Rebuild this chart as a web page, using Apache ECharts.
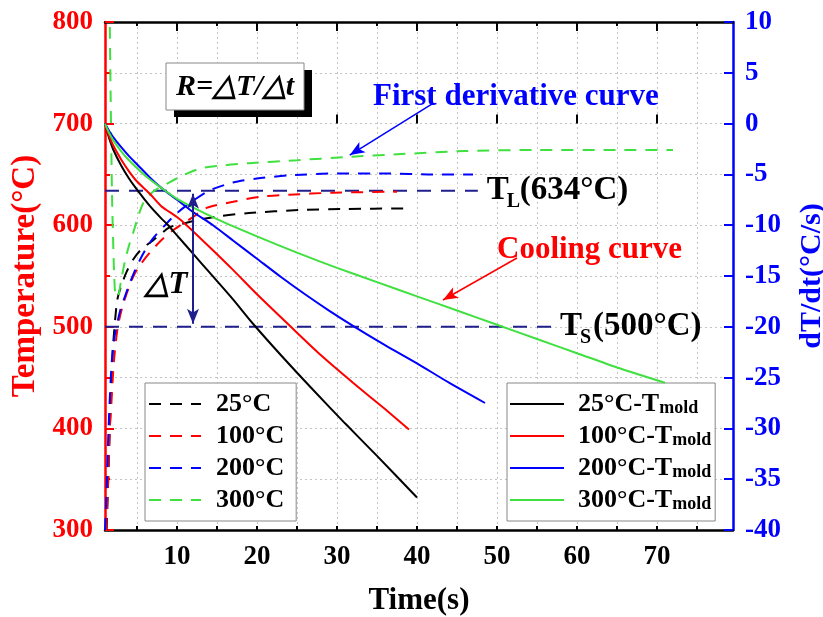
<!DOCTYPE html>
<html><head><meta charset="utf-8">
<script src="https://cdn.jsdelivr.net/npm/echarts@6/dist/echarts.min.js"></script>
<style>html,body{margin:0;padding:0;background:#fff}#c{width:823px;height:617px}</style>
</head><body><div id="c"></div>
<script>
const FONT = '"Liberation Serif","Times New Roman",serif';
const derivNames = ['25°C', '100°C', '200°C', '300°C'];
const coolNames = ['25°C-Tmold', '100°C-Tmold', '200°C-Tmold', '300°C-Tmold'];
const colors = ['#000000', '#ff0000', '#0000ff', '#3fe03f'];
const navy = '#1e1e8f';

// tick values
const xMajorTicks = [10, 20, 30, 40, 50, 60, 70];
const xMinorTicks = [5, 10, 15, 20, 25, 30, 35, 40, 45, 50, 55, 60, 65, 70, 75];

// cooling curves [time s, temperature °C]
const cool25 = [[1,700],[1.5,686],[2,675],[3,659],[4,646],[5,635],[6.6,619],[8,607],[8.9,600],[10,590],[12,572],[14,554],[17,527],[19.5,503],[23,472],[27,438],[31,405],[35,373],[40,332]];
const cool100 = [[1,700],[1.5,688],[2,679],[3,665],[4,653],[5,643],[6.6,631],[8,619],[10,608],[11.2,600],[14,579],[17,556],[20,532],[24.1,501],[28,472],[32,445],[36,419],[39,399]];
const cool200 = [[1,700],[1.5,693],[2,687],[3,677],[4,668],[5,660],[6.6,647],[8,637],[10,625],[12,613],[14.5,600],[17,585],[20,567],[23,549],[26,532],[29,516],[32.2,500],[36,482],[40,464],[44,445],[48.5,425]];
const cool300 = [[1,700],[1.5,691],[2,684],[3,673],[4,664],[6,649],[8,637],[10,626],[15,606],[20,589],[25,573],[30,558],[35,544],[40,530],[45,516],[50,502],[55,488],[60,474],[65,460],[71,445]];

// first derivative curves [time s, dT/dt °C/s]
const deriv25 = [[1.2,-40],[1.4,-35],[1.6,-30],[1.8,-26],[2.0,-22],[2.5,-17.5],[3,-16],[3.7,-14.6],[4.5,-13.4],[5.5,-12.4],[7,-11.5],[9.1,-10.2],[11,-9.8],[12.5,-9.5],[15.4,-9.1],[19,-8.8],[25.4,-8.5],[30.8,-8.4],[39,-8.35]];
const deriv100 = [[1.15,-40],[1.4,-35],[1.6,-30],[1.8,-27.5],[2.1,-23.5],[2.6,-20],[3.3,-17.7],[4.5,-15.1],[5.5,-13.8],[6.6,-12.7],[8,-11.5],[9.5,-10.5],[12,-9.2],[13.7,-8.3],[17,-7.7],[20.4,-7.2],[24,-7.0],[29.5,-6.8],[37.5,-6.7]];
const deriv200 = [[1.0,-40],[1.2,-36],[1.4,-31],[1.6,-27],[1.8,-24],[2.0,-22],[2.3,-20.5],[2.9,-18.4],[3.5,-17],[4.1,-15.7],[5,-14],[6,-12.5],[7,-11.3],[8.5,-10],[10,-8.8],[12,-7.6],[14,-6.6],[17,-5.8],[20,-5.4],[24,-5.1],[30,-4.9],[36,-4.9],[42,-5.0],[47,-5.0]];
const deriv300 = [[1.6,9.5],[1.7,3],[1.8,-3],[1.9,-8],[2.0,-11],[2.15,-15],[2.35,-17],[2.6,-17],[3.0,-15.5],[3.5,-13.5],[4.0,-12],[4.5,-10.8],[5.0,-9.5],[5.8,-7.8],[7,-6.7],[9,-5.8],[11,-5],[13,-4.4],[16,-4.1],[19,-3.9],[25,-3.6],[31,-3.3],[38,-3],[46,-2.7],[55,-2.6],[65,-2.6],[72,-2.6]];

// reference temperatures and annotation anchors [time, temperature]
const tlLine = [[1,634],[47.6,634]];
const tsLine = [[1,500],[57,500]];
const dTArrow = [[12,503],[12,631]];
const derivArrow = [[42,720],[31.6,669]];
const coolArrow = [[52.5,567.7],[43.25,526.4]];

const coolData = [cool25, cool100, cool200, cool300];
const derivData = [deriv25, deriv100, deriv200, deriv300];

const chart = echarts.init(document.getElementById('c'), null, {renderer: 'canvas'});

const gridLine = {show: true, lineStyle: {color: '#c4c4c4', width: 1, type: [2, 3]}};
const tickFont = {fontFamily: FONT, fontWeight: 'bold', fontSize: 27};

function xAx(pos, ticks, len, extra) {
  return Object.assign({
    type: 'value', position: pos, min: 1, max: 79.5,
    axisLine: {show: true, onZero: false, lineStyle: {color: '#000', width: 2.5}},
    axisTick: {show: true, inside: true, length: len, customValues: ticks, lineStyle: {color: '#000', width: 2}},
    axisLabel: {show: false},
    splitLine: {show: false}
  }, extra || {});
}

const series = [];
derivData.forEach((d, i) => {
  series.push({
    name: derivNames[i], type: 'line', data: d, xAxisIndex: 0, yAxisIndex: 1,
    symbol: 'none', smooth: 0.25, lineStyle: {color: colors[i], width: 2, type: [12, 9]},
    itemStyle: {color: colors[i]}, z: 3
  });
});
coolData.forEach((d, i) => {
  series.push({
    name: coolNames[i], type: 'line', data: d, xAxisIndex: 0, yAxisIndex: 0,
    symbol: 'none', smooth: 0.25, lineStyle: {color: colors[i], width: 2},
    itemStyle: {color: colors[i]}, z: 4
  });
});
series.push({
  name: 'TL', type: 'line', data: tlLine, xAxisIndex: 0, yAxisIndex: 0, symbol: 'none',
  lineStyle: {color: navy, width: 2, type: [14, 10]}, z: 2, silent: true
});
series.push({
  name: 'TS', type: 'line', data: tsLine, xAxisIndex: 0, yAxisIndex: 0, symbol: 'none',
  lineStyle: {color: navy, width: 2, type: [14, 10]}, z: 2, silent: true,
  markLine: {
    silent: true, animation: false, symbol: ['none', 'arrow'], symbolSize: [9, 15],
    label: {show: false},
    data: [
      [{coord: dTArrow[0], symbol: 'arrow', lineStyle: {color: navy, width: 2, type: 'solid'}}, {coord: dTArrow[1], symbol: 'arrow'}],
      [{coord: derivArrow[0], symbol: 'none', lineStyle: {color: '#0000ff', width: 1.5, type: 'solid'}}, {coord: derivArrow[1], symbol: 'arrow'}],
      [{coord: coolArrow[0], symbol: 'none', lineStyle: {color: '#ff0000', width: 1.5, type: 'solid'}}, {coord: coolArrow[1], symbol: 'arrow'}]
    ]
  }
});

const legendText = {fontFamily: FONT, fontWeight: 'bold', fontSize: 26, color: '#000', lineHeight: 26};

chart.setOption({
  animation: false,
  backgroundColor: '#fff',
  grid: {left: 105, right: 90, top: 22, bottom: 87, containLabel: false, outerBoundsMode: 'none'},
  xAxis: [
    xAx('bottom', xMinorTicks, 4, {
      splitLine: gridLine,
      axisLabel: {show: true, customValues: xMajorTicks, color: '#000', margin: 14, ...tickFont},
      name: 'Time(s)', nameLocation: 'middle', nameGap: 55,
      nameTextStyle: {fontFamily: FONT, fontWeight: 'bold', fontSize: 31, color: '#000'}
    }),
    xAx('bottom', xMajorTicks, 9, {axisLine: {show: false}}),
    xAx('top', xMinorTicks, 4),
    xAx('top', xMajorTicks, 9, {axisLine: {show: false}})
  ],
  yAxis: [
    {
      type: 'value', position: 'left', min: 300, max: 800, interval: 100,
      axisLine: {show: true, onZero: false, lineStyle: {color: '#ff0000', width: 2.5}},
      axisTick: {show: true, inside: true, length: 9, lineStyle: {color: '#ff0000', width: 2}},
      minorTick: {show: true, splitNumber: 2, length: 5, lineStyle: {color: '#ff0000', width: 2}},
      splitLine: gridLine,
      minorSplitLine: gridLine,
      axisLabel: {color: '#ff0000', margin: 12, ...tickFont},
      name: 'Temperature(°C)', nameLocation: 'middle', nameRotate: 90, nameGap: 50,
      nameTextStyle: {fontFamily: FONT, fontWeight: 'bold', fontSize: 33, color: '#ff0000'}
    },
    {
      type: 'value', position: 'right', min: -40, max: 10, interval: 5,
      axisLine: {show: true, onZero: false, lineStyle: {color: '#0000ff', width: 2.5}},
      axisTick: {show: true, inside: true, length: 9, lineStyle: {color: '#0000ff', width: 2}},
      splitLine: {show: false},
      axisLabel: {color: '#0000ff', margin: 12, ...tickFont},
      name: 'dT/dt(°C/s)', nameLocation: 'middle', nameRotate: 90, nameGap: 64,
      nameTextStyle: {fontFamily: FONT, fontWeight: 'bold', fontSize: 30, color: '#0000ff'}
    }
  ],
  legend: [
    {
      data: derivNames, left: 145, top: 383, orient: 'vertical', selectedMode: false,
      itemWidth: 52, itemHeight: 14, itemGap: 6, padding: [8, 12, 8, 3],
      backgroundColor: '#fff', borderColor: '#888', borderWidth: 1,
      itemStyle: {opacity: 0},
      textStyle: Object.assign({padding: [0, 0, 0, 10]}, legendText)
    },
    {
      data: coolNames, left: 507, top: 383, orient: 'vertical', selectedMode: false,
      itemWidth: 54, itemHeight: 14, itemGap: 6, padding: [8, 4, 8, 2],
      backgroundColor: '#fff', borderColor: '#888', borderWidth: 1,
      itemStyle: {opacity: 0},
      formatter: function (n) { return '{a|' + n.replace('Tmold', 'T') + '}{b|mold}'; },
      textStyle: Object.assign({padding: [0, 0, 0, 9],
        rich: {
          a: {fontFamily: FONT, fontWeight: 'bold', fontSize: 26, color: '#000', lineHeight: 26},
          b: {fontFamily: FONT, fontWeight: 'bold', fontSize: 18, color: '#000', lineHeight: 20, verticalAlign: 'bottom'}
        }}, legendText)
    }
  ],
  series: series
});

// annotations
const px = p => chart.convertToPixel({xAxisIndex: 0, yAxisIndex: 0}, p);
const tlEnd = px(tlLine[1]);
const tsEnd = px(tsLine[1]);
function subLabel(x, y, sub, rest) {
  return {
    type: 'group', x: x, y: y, silent: true,
    children: [
      {type: 'text', x: 0, y: 0, style: {text: 'T', fontFamily: FONT, fontWeight: 'bold', fontSize: 33, fill: '#000', verticalAlign: 'middle'}},
      {type: 'text', x: 20, y: 11, style: {text: sub, fontFamily: FONT, fontWeight: 'bold', fontSize: 20, fill: '#000', verticalAlign: 'middle'}},
      {type: 'text', x: 33, y: 0, style: {text: rest, fontFamily: FONT, fontWeight: 'bold', fontSize: 33, fill: '#000', verticalAlign: 'middle'}}
    ]
  };
}
chart.setOption({
  graphic: [
    {
      type: 'group', x: 166, y: 63, silent: true,
      children: [
        {type: 'rect', shape: {x: 8, y: 7, width: 138, height: 47}, style: {fill: '#000'}},
        {type: 'rect', shape: {x: 0, y: 0, width: 138, height: 47}, style: {fill: '#fff', stroke: '#888', lineWidth: 1}},
        {type: 'text', x: 69, y: 24, style: {text: 'R=△T/△t', fontFamily: FONT, fontWeight: 'bold', fontStyle: 'italic', fontSize: 30, fill: '#000', align: 'center', verticalAlign: 'middle'}}
      ]
    },
    {type: 'text', x: 166, y: 285, silent: true, style: {text: '△T', fontFamily: FONT, fontWeight: 'bold', fontStyle: 'italic', fontSize: 31, fill: '#000', align: 'center', verticalAlign: 'middle'}},
    {type: 'text', x: 373, y: 97, silent: true, style: {text: 'First derivative curve', fontFamily: FONT, fontWeight: 'bold', fontSize: 31, fill: '#0000ff', verticalAlign: 'middle'}},
    {type: 'text', x: 497, y: 250, silent: true, style: {text: 'Cooling curve', fontFamily: FONT, fontWeight: 'bold', fontSize: 31, fill: '#ff0000', verticalAlign: 'middle'}},
    subLabel(tlEnd[0] + 9, tlEnd[1], 'L', '(634°C)'),
    subLabel(tsEnd[0] + 7, tsEnd[1], 'S', '(500°C)')
  ]
});
</script>
</body></html>
